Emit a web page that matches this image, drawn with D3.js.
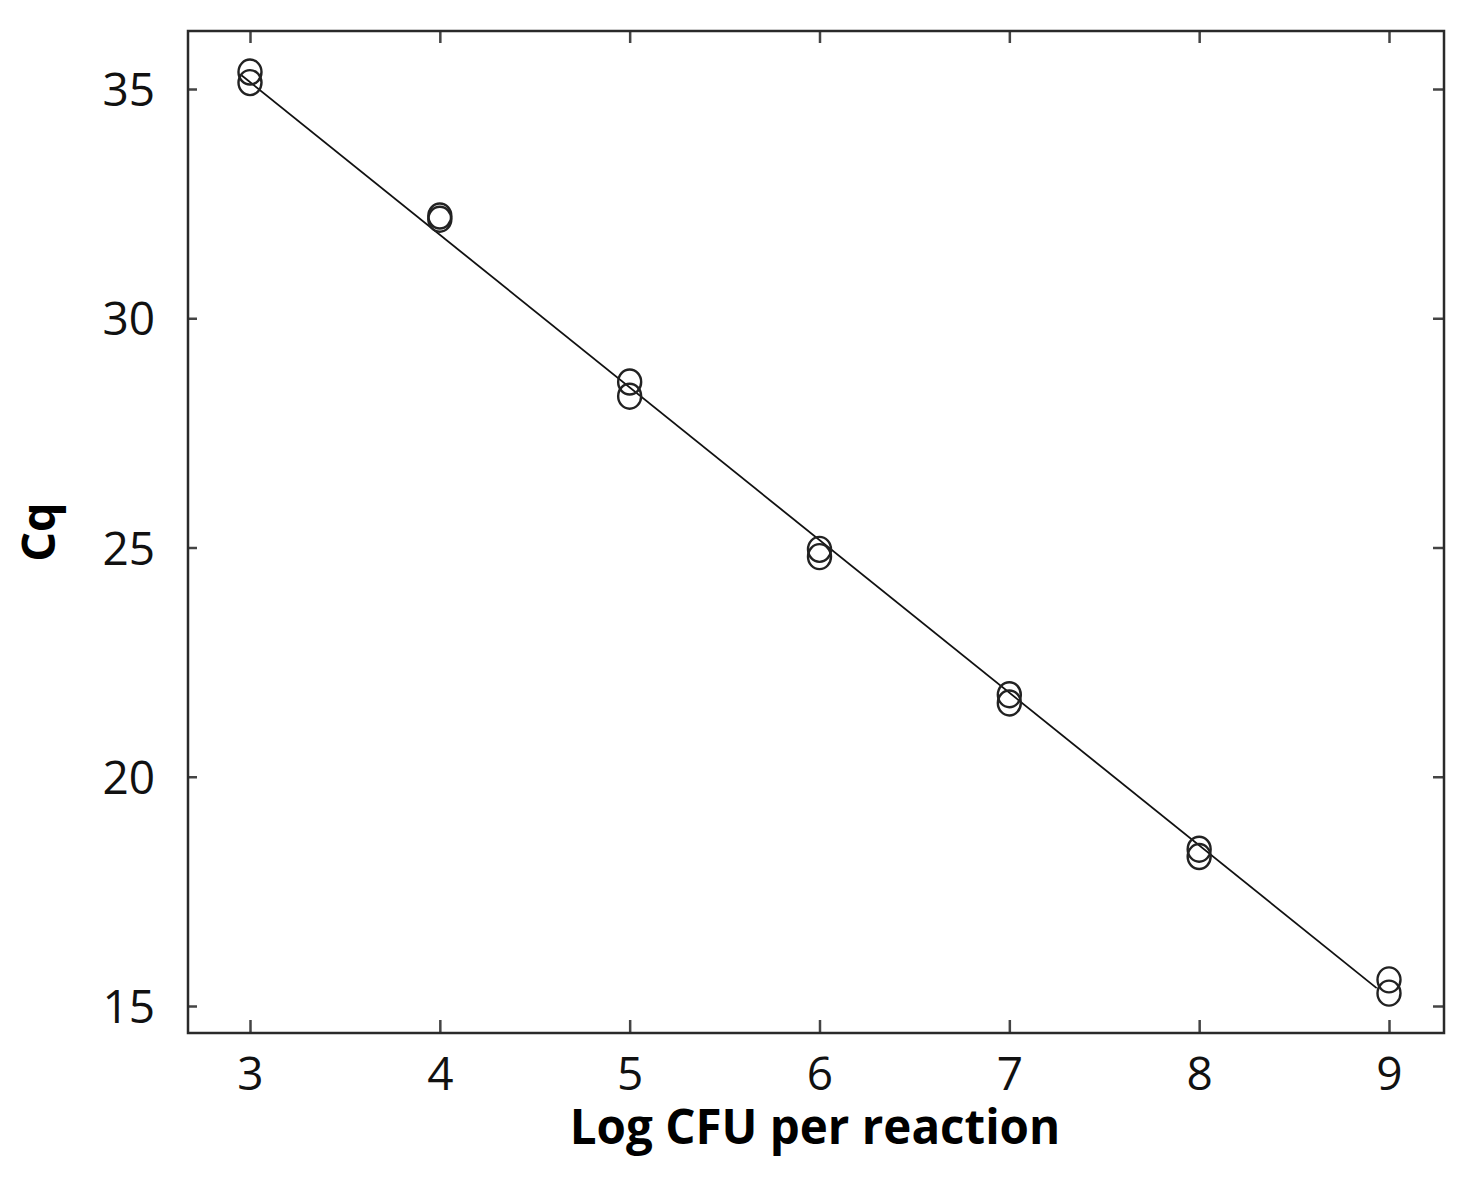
<!DOCTYPE html>
<html><head><meta charset="utf-8">
<script src="https://cdn.jsdelivr.net/npm/d3@7"></script>
<style>body{margin:0;background:#fff}svg{display:block}</style>
</head><body>
<svg id="c" width="1473" height="1179"></svg>
<script>
// replicate measurements (two overlapping replicates per dilution)
const logCFU = [3,3, 4,4, 5,5, 6,6, 7,7, 8,8, 9,9];
const cq     = [35.37,35.14, 32.23,32.16, 28.61,28.30,
                24.96,24.80, 21.79,21.61, 18.42,18.26, 15.57,15.28];
// fitted standard-curve line
const fitX  = [2.955, 8.935];
const fitCq = [35.30, 15.39];
const xTicks = [3,4,5,6,7,8,9];
const yTicks = [15,20,25,30,35];
const xLabel = "Log CFU per reaction";
const yLabel = "Cq";

const L=188, R=1444, T=31, B=1033;
const x = d3.scaleLinear().domain([3,9]).range([250,1389]);
const y = d3.scaleLinear().domain([15,35]).range([1006,89]);
const svg = d3.select("#c");
const font = "'Open Sans', 'Liberation Sans', sans-serif";

// axes (inward ticks on all four sides)
const gB = svg.append("g").attr("transform",`translate(0,${B})`)
  .call(d3.axisBottom(x).tickValues(xTicks).tickSize(-13).tickPadding(0).tickFormat(d3.format("d")));
const gT = svg.append("g").attr("transform",`translate(0,${T})`)
  .call(d3.axisTop(x).tickValues(xTicks).tickSize(-12).tickFormat(""));
const gL = svg.append("g").attr("transform",`translate(${L},0)`)
  .call(d3.axisLeft(y).tickValues(yTicks).tickSize(-9).tickPadding(33).tickFormat(d3.format("d")));
const gR = svg.append("g").attr("transform",`translate(${R},0)`)
  .call(d3.axisRight(y).tickValues(yTicks).tickSize(-11).tickFormat(""));
[gB,gT,gL,gR].forEach(g=>{
  g.select(".domain").remove();
  g.selectAll(".tick line").attr("stroke","#444").attr("stroke-width",2.5);
  g.selectAll(".tick text").attr("fill","#111").style("font-family",font).style("font-size","46px");
});
gB.selectAll(".tick text").attr("y",57).attr("dy",null);
gL.selectAll(".tick text").attr("dy","0.36em");

// frame
svg.append("rect").attr("x",L).attr("y",T).attr("width",R-L).attr("height",B-T)
  .attr("fill","none").attr("stroke","#2a2a2a").attr("stroke-width",2.5);

// fit line
svg.append("path")
  .attr("d", d3.line().x((d,i)=>x(fitX[i])).y((d,i)=>y(fitCq[i]))(fitX))
  .attr("fill","none").attr("stroke","#111").attr("stroke-width",1.8);

// points
svg.append("g").selectAll("ellipse").data(logCFU).join("ellipse")
  .attr("cx",(d)=>x(d)).attr("cy",(d,i)=>y(cq[i]))
  .attr("rx",11.5).attr("ry",12.5)
  .attr("fill","none").attr("stroke","#222").attr("stroke-width",2.4);

// axis titles
svg.append("text").attr("x",(L+R)/2-1).attr("y",1144).attr("text-anchor","middle")
  .style("font-family",font).style("font-weight","bold").style("font-size","47.5px")
  .attr("fill","#000").text(xLabel);
svg.append("text").attr("transform",`translate(55,${(T+B)/2}) rotate(-90)`)
  .attr("text-anchor","middle")
  .style("font-family",font).style("font-weight","bold").style("font-size","47px")
  .attr("fill","#000").text(yLabel);
</script>
</body></html>
